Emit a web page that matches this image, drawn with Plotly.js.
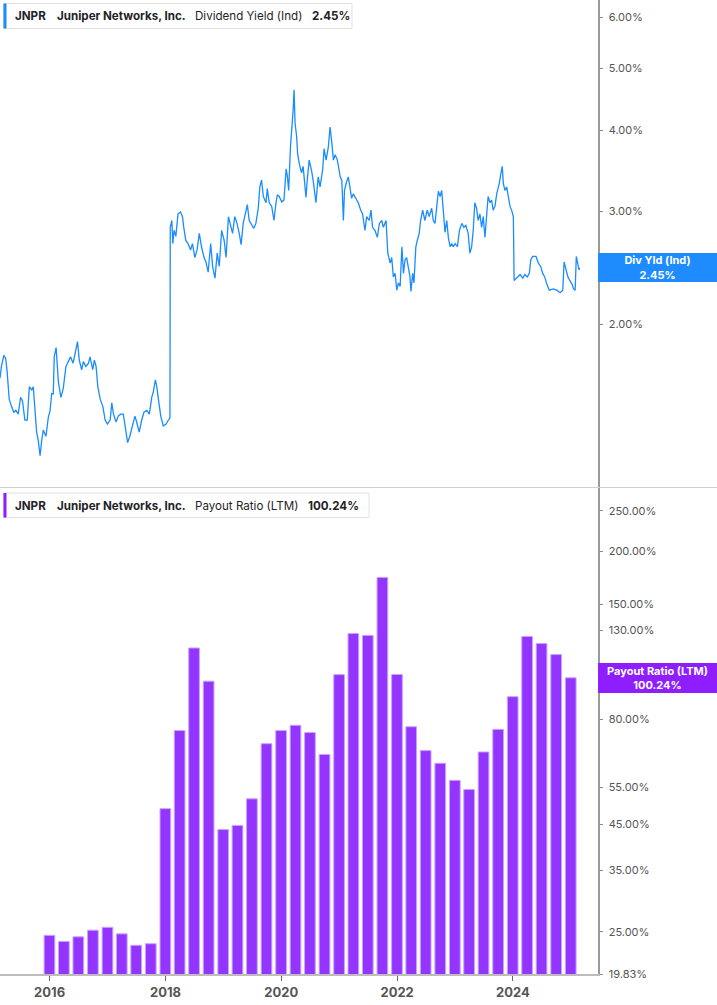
<!DOCTYPE html>
<html>
<head>
<meta charset="utf-8">
<script src="https://cdn.plot.ly/plotly-3.0.1.min.js"></script>
<style>
  body { margin: 0; background: #fff; }
  #chart { width: 717px; height: 1005px; }
</style>
</head>
<body>
<div id="chart"></div>
<script>
// Dividend yield (indicated), %
const divDates = [
    '2015-02-22', '2015-03-03', '2015-03-18', '2015-03-30', '2015-04-08', '2015-04-21', '2015-05-06', '2015-05-20',
    '2015-06-02', '2015-06-17', '2015-07-02', '2015-07-14', '2015-07-29', '2015-08-13', '2015-08-26', '2015-09-10',
    '2015-09-20', '2015-09-30', '2015-10-11', '2015-10-21', '2015-11-02', '2015-11-12', '2015-11-22', '2015-12-09',
    '2015-12-23', '2016-01-04', '2016-01-14', '2016-01-24', '2016-01-30', '2016-02-11', '2016-02-25', '2016-03-12',
    '2016-03-27', '2016-04-13', '2016-04-27', '2016-05-12', '2016-05-28', '2016-06-15', '2016-06-25', '2016-07-06',
    '2016-07-21', '2016-08-01', '2016-08-17', '2016-09-02', '2016-09-12', '2016-09-29', '2016-10-09', '2016-10-20',
    '2016-10-31', '2016-11-15', '2016-12-02', '2016-12-16', '2016-12-30', '2017-01-17', '2017-01-27', '2017-02-07',
    '2017-02-23', '2017-03-09', '2017-03-24', '2017-04-10', '2017-04-26', '2017-05-07', '2017-05-21', '2017-06-08',
    '2017-06-22', '2017-07-03', '2017-07-19', '2017-08-04', '2017-08-18', '2017-09-05', '2017-09-21', '2017-10-06',
    '2017-10-16', '2017-10-29', '2017-11-07', '2017-11-17', '2017-12-02', '2017-12-18', '2018-01-05', '2018-01-19',
    '2018-01-29', '2018-01-31', '2018-02-10', '2018-02-16', '2018-02-24', '2018-03-07', '2018-03-21', '2018-04-06',
    '2018-04-18', '2018-04-26', '2018-05-09', '2018-05-23', '2018-06-08', '2018-06-20', '2018-07-05', '2018-07-19',
    '2018-08-02', '2018-08-16', '2018-09-01', '2018-09-13', '2018-09-27', '2018-10-13', '2018-10-25', '2018-11-09',
    '2018-11-23', '2018-12-06', '2018-12-21', '2019-01-06', '2019-01-18', '2019-02-02', '2019-02-16', '2019-02-28',
    '2019-03-14', '2019-03-28', '2019-04-11', '2019-04-23', '2019-05-06', '2019-05-22', '2019-06-01', '2019-06-13',
    '2019-06-28', '2019-07-12', '2019-07-25', '2019-08-09', '2019-08-19', '2019-08-30', '2019-09-10', '2019-09-27',
    '2019-10-05', '2019-10-17', '2019-11-02', '2019-11-16', '2019-11-29', '2019-12-07', '2019-12-19', '2020-01-04',
    '2020-01-18', '2020-02-01', '2020-02-09', '2020-02-17', '2020-02-28', '2020-03-08', '2020-03-16', '2020-03-22',
    '2020-03-28', '2020-04-07', '2020-04-13', '2020-04-23', '2020-05-08', '2020-05-18', '2020-06-05', '2020-06-13',
    '2020-06-25', '2020-07-10', '2020-07-20', '2020-08-07', '2020-08-21', '2020-09-02', '2020-09-19', '2020-09-27',
    '2020-10-10', '2020-10-24', '2020-11-04', '2020-11-15', '2020-11-25', '2020-12-06', '2020-12-20', '2021-01-07',
    '2021-01-17', '2021-01-27', '2021-02-03', '2021-02-13', '2021-02-27', '2021-03-09', '2021-03-20', '2021-03-30',
    '2021-04-16', '2021-05-01', '2021-05-16', '2021-05-28', '2021-06-12', '2021-06-23', '2021-07-09', '2021-07-20',
    '2021-07-30', '2021-08-14', '2021-08-29', '2021-09-11', '2021-09-26', '2021-10-06', '2021-10-23', '2021-11-03',
    '2021-11-18', '2021-11-28', '2021-12-08', '2021-12-19', '2021-12-30', '2022-01-09', '2022-01-20', '2022-01-31',
    '2022-02-10', '2022-02-20', '2022-03-02', '2022-03-12', '2022-03-23', '2022-03-29', '2022-04-09', '2022-04-17',
    '2022-04-29', '2022-05-08', '2022-05-20', '2022-05-29', '2022-06-11', '2022-06-25', '2022-07-10', '2022-07-22',
    '2022-08-07', '2022-08-17', '2022-08-28', '2022-09-08', '2022-09-18', '2022-09-29', '2022-10-09', '2022-10-19',
    '2022-10-30', '2022-11-10', '2022-11-20', '2022-12-01', '2022-12-11', '2022-12-21', '2023-01-02', '2023-01-16',
    '2023-01-29', '2023-02-13', '2023-02-26', '2023-03-10', '2023-03-25', '2023-04-05', '2023-04-16', '2023-04-26',
    '2023-05-06', '2023-05-17', '2023-05-27', '2023-06-07', '2023-06-18', '2023-06-28', '2023-07-09', '2023-07-19',
    '2023-07-29', '2023-08-10', '2023-08-20', '2023-08-30', '2023-09-10', '2023-09-21', '2023-10-07', '2023-10-18',
    '2023-10-26', '2023-11-02', '2023-11-12', '2023-11-23', '2023-12-03', '2023-12-14', '2023-12-24', '2024-01-04',
    '2024-01-09', '2024-01-29', '2024-02-16', '2024-03-03', '2024-03-17', '2024-04-01', '2024-04-14', '2024-04-23',
    '2024-05-05', '2024-05-26', '2024-06-10', '2024-06-25', '2024-07-07', '2024-07-20', '2024-08-02', '2024-08-18',
    '2024-09-11', '2024-10-04', '2024-10-25', '2024-11-11', '2024-11-19', '2024-12-02', '2024-12-13', '2024-12-25',
    '2025-01-08', '2025-01-18', '2025-01-28', '2025-02-04', '2025-02-12', '2025-02-21', '2025-02-25'
];
const divYield = [
    1.65, 1.72, 1.79, 1.77, 1.69, 1.53, 1.49, 1.46,
    1.47, 1.45, 1.54, 1.52, 1.42, 1.42, 1.60, 1.58,
    1.60, 1.48, 1.36, 1.32, 1.25, 1.32, 1.37, 1.34,
    1.43, 1.47, 1.56, 1.56, 1.78, 1.84, 1.63, 1.54,
    1.59, 1.72, 1.75, 1.78, 1.74, 1.82, 1.88, 1.76,
    1.70, 1.75, 1.72, 1.74, 1.78, 1.70, 1.76, 1.72,
    1.60, 1.53, 1.49, 1.42, 1.40, 1.42, 1.51, 1.45,
    1.41, 1.44, 1.45, 1.45, 1.37, 1.31, 1.34, 1.39,
    1.44, 1.41, 1.36, 1.42, 1.46, 1.47, 1.45, 1.54,
    1.57, 1.64, 1.60, 1.53, 1.44, 1.39, 1.40, 1.42,
    1.43, 2.83, 2.90, 2.67, 2.80, 2.74, 2.97, 2.99,
    2.94, 2.83, 2.70, 2.67, 2.61, 2.67, 2.54, 2.61,
    2.77, 2.64, 2.54, 2.50, 2.41, 2.67, 2.46, 2.36,
    2.58, 2.46, 2.80, 2.70, 2.54, 2.94, 2.83, 2.77,
    2.94, 2.87, 2.77, 2.66, 2.87, 3.01, 3.07, 2.90,
    2.85, 2.82, 2.87, 3.03, 3.27, 3.35, 3.16, 3.09,
    3.25, 3.09, 3.05, 2.90, 3.09, 3.18, 3.16, 3.10,
    3.12, 3.49, 3.39, 3.23, 3.77, 4.01, 4.31, 4.63,
    4.11, 3.92, 3.69, 3.56, 3.44, 3.52, 3.15, 3.35,
    3.60, 3.47, 3.35, 3.09, 3.39, 3.27, 3.49, 3.75,
    3.60, 3.77, 4.05, 3.83, 3.60, 3.67, 3.60, 3.39,
    3.35, 2.90, 3.23, 3.31, 3.39, 3.27, 3.14, 3.19,
    3.14, 3.09, 3.01, 2.97, 2.80, 2.94, 2.90, 3.01,
    2.83, 2.80, 2.73, 2.87, 2.90, 2.83, 2.90, 2.58,
    2.49, 2.54, 2.37, 2.40, 2.26, 2.32, 2.29, 2.64,
    2.40, 2.52, 2.54, 2.46, 2.37, 2.25, 2.40, 2.32,
    2.64, 2.70, 2.77, 2.90, 3.01, 2.90, 3.01, 2.94,
    3.03, 2.90, 2.87, 3.05, 3.22, 3.16, 3.23, 3.01,
    2.78, 2.90, 2.73, 2.64, 2.67, 2.64, 2.67, 2.64,
    2.80, 2.87, 2.83, 2.85, 2.77, 2.58, 2.64, 2.80,
    3.09, 3.03, 2.90, 2.97, 2.83, 2.94, 2.73, 2.94,
    3.16, 3.09, 3.12, 3.01, 3.05, 3.19, 3.31, 3.44,
    3.52, 3.31, 3.23, 3.27, 3.16, 3.05, 3.01, 2.94,
    2.34, 2.37, 2.39, 2.36, 2.39, 2.37, 2.40, 2.52,
    2.55, 2.55, 2.49, 2.46, 2.40, 2.37, 2.31, 2.26,
    2.27, 2.26, 2.24, 2.26, 2.50, 2.43, 2.37, 2.34,
    2.31, 2.27, 2.26, 2.55, 2.49, 2.43, 2.45
];

// Payout ratio (LTM), %, one bar per fiscal quarter end
const payoutQuarters = [
    '2015-12-31',
    '2016-03-31', '2016-06-30', '2016-09-30', '2016-12-31',
    '2017-03-31', '2017-06-30', '2017-09-30', '2017-12-31',
    '2018-03-31', '2018-06-30', '2018-09-30', '2018-12-31',
    '2019-03-31', '2019-06-30', '2019-09-30', '2019-12-31',
    '2020-03-31', '2020-06-30', '2020-09-30', '2020-12-31',
    '2021-03-31', '2021-06-30', '2021-09-30', '2021-12-31',
    '2022-03-31', '2022-06-30', '2022-09-30', '2022-12-31',
    '2023-03-31', '2023-06-30', '2023-09-30', '2023-12-31',
    '2024-03-31', '2024-06-30', '2024-09-30', '2024-12-31'
];
const payoutRatio = [
    24.5,
    23.7, 24.3, 25.2, 25.6,
    24.7, 23.2, 23.4, 49.0,
    75.1, 118.0, 98.4, 43.7,
    44.7, 51.7, 69.9, 75.1,
    77.3, 74.3, 65.9, 102.0,
    127.7, 126.4, 173.6, 102.1,
    76.7, 67.3, 62.8, 57.2,
    54.4, 66.8, 75.6, 90.4,
    125.7, 120.9, 113.8, 100.24
];

const yearTicks = ['2016', '2018', '2020', '2022', '2024'];
const yieldTicks = [2, 3, 4, 5, 6];
const payoutTicks = [19.83, 25, 35, 45, 55, 80, 130, 150, 200, 250];

const ticker = 'JNPR';
const company = 'Juniper Networks, Inc.';

// pixel -> paper helpers (plot area is 598 x 974 px)
const PW = 598, PH = 974;
const px = x => x / PW;
const py = y => (PH - y) / PH;

const lastYield = divYield[divYield.length - 1];
const lastPayout = payoutRatio[payoutRatio.length - 1];

const BLUE = '#1a8cff';
const PURPLE = '#9434ff';
const TEXT = '#1f2328';
const AXIS_TEXT = '#555';

const data = [
    {
        x: divDates,
        y: divYield,
        xaxis: 'x',
        yaxis: 'y2',
        type: 'scatter',
        mode: 'lines',
        line: { color: BLUE, width: 1.3 },
        hoverinfo: 'skip'
    },
    {
        x: payoutQuarters,
        y: payoutRatio,
        xaxis: 'x',
        yaxis: 'y',
        type: 'bar',
        marker: { color: PURPLE, line: { color: '#c9a3ff', width: 1 } },
        hoverinfo: 'skip'
    }
];

const yAxisCommon = {
    type: 'log',
    side: 'right',
    anchor: 'x',
    showgrid: false,
    zeroline: false,
    showline: true,
    linecolor: '#9a9a9a',
    linewidth: 1.5,
    ticks: 'outside',
    ticklen: 3,
    tickwidth: 1,
    tickcolor: '#888',
    ticklabelstandoff: 4,
    tickfont: { family: 'Inter, sans-serif', size: 11, color: AXIS_TEXT }
};

// legend chips: box, colour strip and text pieces
function chip(top, bottom, right, color) {
    return [
        {
            type: 'rect', xref: 'paper', yref: 'paper',
            x0: px(3.5), x1: px(right), y0: py(bottom), y1: py(top),
            fillcolor: '#fff', line: { color: '#e2e2e2', width: 1 }, layer: 'above'
        },
        {
            type: 'rect', xref: 'paper', yref: 'paper',
            x0: px(3.5), x1: px(6.5), y0: py(bottom), y1: py(top),
            fillcolor: color, line: { width: 0 }, layer: 'above'
        }
    ];
}

function chipText(yc, pieces) {
    return pieces.map(p => ({
        xref: 'paper', yref: 'paper',
        x: px(p.x), y: py(yc),
        xanchor: 'left', yanchor: 'middle',
        text: p.bold ? '<b>' + p.text + '</b>' : p.text,
        showarrow: false,
        font: { family: 'Inter, sans-serif', size: 11.6, color: TEXT }
    }));
}

const layout = {
    width: 717,
    height: 1005,
    margin: { l: 0, r: 119, t: 0, b: 31 },
    paper_bgcolor: '#fff',
    plot_bgcolor: '#fff',
    showlegend: false,
    bargap: 0.25,
    font: { family: 'Inter, sans-serif' },
    xaxis: {
        type: 'date',
        anchor: 'y',
        range: ['2015-02-22', '2025-06-21'],
        showgrid: false,
        zeroline: false,
        showline: true,
        linecolor: '#bdbdbd',
        linewidth: 2,
        ticks: 'outside',
        ticklen: 5,
        tickwidth: 1,
        tickcolor: '#666',
        tickvals: yearTicks.map(y => y + '-01-01'),
        ticktext: yearTicks,
        tickfont: { family: 'Inter, sans-serif', size: 13, color: AXIS_TEXT, weight: 700 }
    },
    yaxis: Object.assign({}, yAxisCommon, {
        domain: [0, 0.499],
        range: [Math.log10(19.83), 2.452],
        tickvals: payoutTicks,
        ticktext: payoutTicks.map(v => v.toFixed(2) + '%')
    }),
    yaxis2: Object.assign({}, yAxisCommon, {
        domain: [0.5, 1],
        range: [0.0482, 0.8051],
        tickvals: yieldTicks,
        ticktext: yieldTicks.map(v => v.toFixed(2) + '%')
    }),
    shapes: [
        // divider between the two panels
        {
            type: 'line', xref: 'paper', yref: 'paper',
            x0: 0, x1: 717 / PW, y0: py(487.5), y1: py(487.5),
            line: { color: '#d0d0d0', width: 1 }
        },
        ...chip(3.5, 28.5, 352, BLUE),
        ...chip(493, 517.5, 369, '#8f1eff')
    ],
    annotations: [
        ...chipText(16.5, [
            { x: 13, text: ticker, bold: true },
            { x: 55, text: company, bold: true },
            { x: 193, text: 'Dividend Yield (Ind)' },
            { x: 310, text: lastYield.toFixed(2) + '%', bold: true }
        ]),
        ...chipText(505.5, [
            { x: 13, text: ticker, bold: true },
            { x: 55, text: company, bold: true },
            { x: 193, text: 'Payout Ratio (LTM)' },
            { x: 306, text: lastPayout.toFixed(2) + '%', bold: true }
        ]),
        // current value tags on the right axes
        {
            xref: 'paper', yref: 'y2',
            x: 1, y: Math.log10(lastYield),
            xanchor: 'left', yanchor: 'middle',
            text: '<b>Div Yld (Ind)<br>' + lastYield.toFixed(2) + '%</b>',
            showarrow: false,
            bgcolor: '#1e8cff',
            width: 119, height: 29, borderpad: 0, borderwidth: 0,
            align: 'center',
            font: { family: 'Inter, sans-serif', size: 11, color: '#fff' }
        },
        {
            xref: 'paper', yref: 'y',
            x: 1, y: Math.log10(lastPayout),
            xanchor: 'left', yanchor: 'middle',
            text: '<b>Payout Ratio (LTM)<br>' + lastPayout.toFixed(2) + '%</b>',
            showarrow: false,
            bgcolor: '#8f1eff',
            width: 119, height: 30, borderpad: 0, borderwidth: 0,
            align: 'center',
            font: { family: 'Inter, sans-serif', size: 11, color: '#fff' }
        }
    ]
};

const config = {
    displayModeBar: false,
    staticPlot: true
};

Plotly.newPlot('chart', data, layout, config);
</script>
</body>
</html>
